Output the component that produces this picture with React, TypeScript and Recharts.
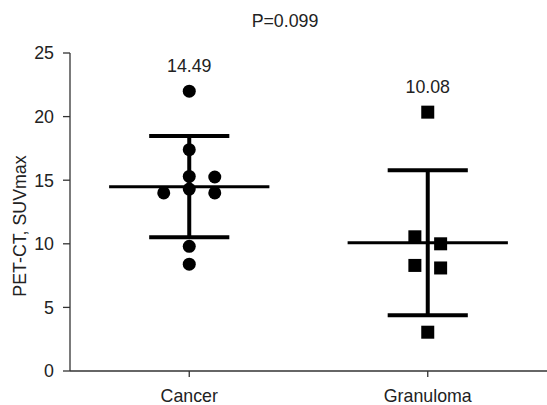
import React from 'react';
import { ComposedChart, Scatter, XAxis, YAxis, ReferenceLine, ReferenceDot } from 'recharts';

const groups = ['Cancer', 'Granuloma'];
const groupX = [0.5, 1.5];
const means = [14.49, 10.08];
const sds = [3.98, 5.7];
const yTicks = [0, 5, 10, 15, 20, 25];
const pLabel = 'P=0.099';
const yLabel = 'PET-CT, SUVmax';

const cancerPoints = [
  { x: 0.5, y: 22.0 },
  { x: 0.5, y: 17.4 },
  { x: 0.5, y: 15.3 },
  { x: 0.607, y: 15.25 },
  { x: 0.393, y: 14.0 },
  { x: 0.5, y: 14.3 },
  { x: 0.607, y: 14.0 },
  { x: 0.5, y: 9.8 },
  { x: 0.5, y: 8.4 },
];
const granulomaPoints = [
  { x: 1.5, y: 20.35 },
  { x: 1.446, y: 10.55 },
  { x: 1.554, y: 10.0 },
  { x: 1.446, y: 8.3 },
  { x: 1.554, y: 8.1 },
  { x: 1.5, y: 3.05 },
];

const MEAN_HALF = 0.336;
const CAP_HALF = 0.168;
const FONT = '"Liberation Sans", Arial, Helvetica, sans-serif';
const TXT = '#222';
const FS = 17.8;

const Circle = (props: any) => <circle cx={props.cx} cy={props.cy} r={6.5} fill="#000" />;
const Square = (props: any) => (
  <rect x={props.cx - 6.5} y={props.cy - 6.5} width={13} height={13} fill="#000" />
);

const maxes = [cancerPoints, granulomaPoints].map((pts) => Math.max(...pts.map((p) => p.y)));

export default function App() {
  return (
    <div style={{ position: 'absolute', left: 0, top: 0, width: 547, height: 405, fontFamily: FONT }}>
      <div
        style={{
          position: 'absolute',
          left: 285,
          top: 13,
          transform: 'translateX(-50%)',
          fontSize: FS,
          lineHeight: 1,
          color: TXT,
          whiteSpace: 'nowrap',
        }}
      >
        {pLabel}
      </div>
      <ComposedChart width={547} height={405} margin={{ top: 53, right: 0, bottom: 0, left: 0 }}>
        <XAxis
          type="number"
          dataKey="x"
          domain={[0, 2]}
          ticks={groupX}
          tickFormatter={(v: number) => groups[groupX.indexOf(v)] ?? ''}
          height={34}
          tickSize={6}
          tickMargin={12}
          stroke="#333"
          strokeWidth={1.3}
          tick={{ fill: TXT, fontSize: FS, fontFamily: FONT }}
          allowDataOverflow
        />
        <YAxis
          type="number"
          dataKey="y"
          domain={[0, 25]}
          ticks={yTicks}
          width={70}
          tickSize={7}
          tickMargin={9}
          stroke="#333"
          strokeWidth={1.3}
          tick={{ fill: TXT, fontSize: FS, fontFamily: FONT }}
          label={{
            content: () => (
              <text
                x={19.5}
                y={226}
                transform="rotate(-90, 19.5, 226)"
                textAnchor="middle"
                dominantBaseline="central"
                fontSize={FS}
                fontFamily={FONT}
                fill={TXT}
              >
                {yLabel}
              </text>
            ),
          }}
        />
        {groupX.map((gx, i) => (
          <ReferenceLine
            key={'v' + i}
            segment={[
              { x: gx, y: means[i] - sds[i] },
              { x: gx, y: means[i] + sds[i] },
            ]}
            stroke="#000"
            strokeWidth={4}
          />
        ))}
        {groupX.map((gx, i) => (
          <ReferenceLine
            key={'m' + i}
            segment={[
              { x: gx - MEAN_HALF, y: means[i] },
              { x: gx + MEAN_HALF, y: means[i] },
            ]}
            stroke="#000"
            strokeWidth={3}
          />
        ))}
        {groupX.map((gx, i) => (
          <ReferenceLine
            key={'t' + i}
            segment={[
              { x: gx - CAP_HALF, y: means[i] + sds[i] },
              { x: gx + CAP_HALF, y: means[i] + sds[i] },
            ]}
            stroke="#000"
            strokeWidth={4}
          />
        ))}
        {groupX.map((gx, i) => (
          <ReferenceLine
            key={'b' + i}
            segment={[
              { x: gx - CAP_HALF, y: means[i] - sds[i] },
              { x: gx + CAP_HALF, y: means[i] - sds[i] },
            ]}
            stroke="#000"
            strokeWidth={4}
          />
        ))}
        <Scatter data={cancerPoints} shape={Circle} isAnimationActive={false} />
        <Scatter data={granulomaPoints} shape={Square} isAnimationActive={false} />
        {groupX.map((gx, i) => (
          <ReferenceDot
            key={'l' + i}
            x={gx}
            y={maxes[i]}
            r={1}
            fill="none"
            stroke="none"
            label={{
              value: means[i].toFixed(2),
              position: 'top',
              offset: 18,
              fill: TXT,
              fontSize: FS,
              fontFamily: FONT,
            }}
          />
        ))}
      </ComposedChart>
    </div>
  );
}
